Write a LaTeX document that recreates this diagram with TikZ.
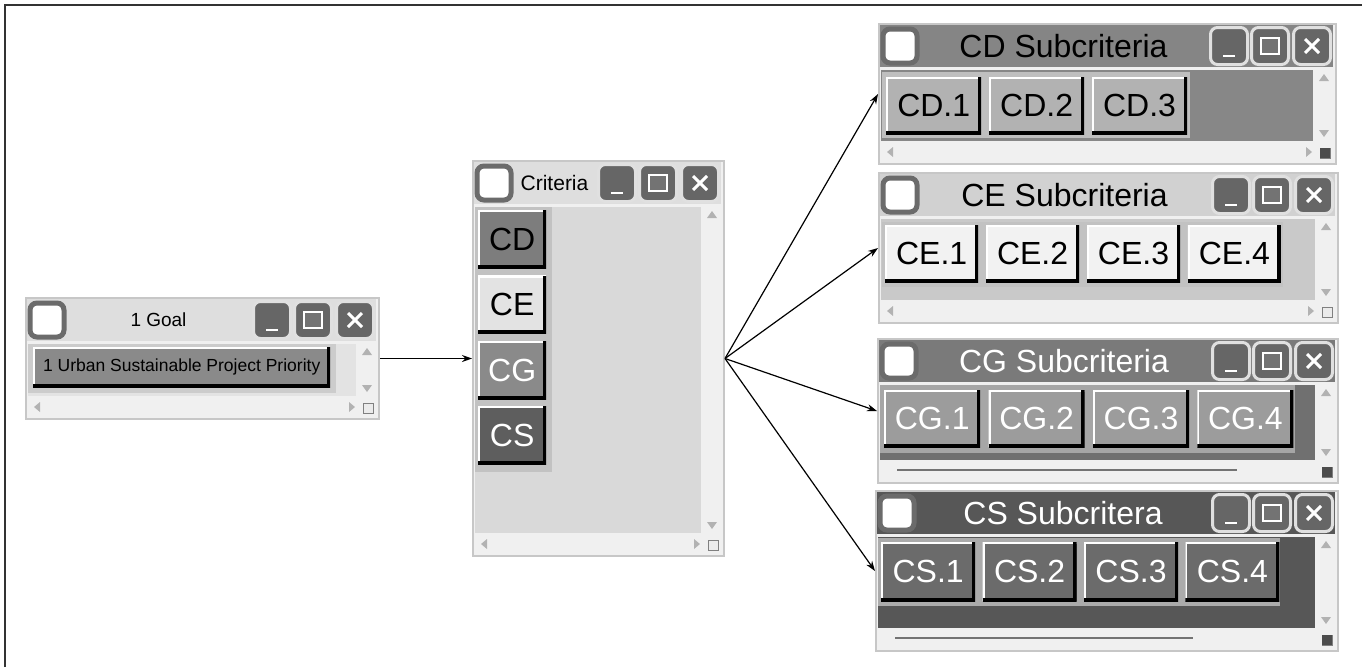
\documentclass[tikz,border=0pt]{standalone}
\usepackage{fontspec}
\setmainfont{Liberation Sans}
\usetikzlibrary{arrows.meta, positioning}

\newcommand{\titlefont}{\fontsize{32}{38}\selectfont}
\newcommand{\btnfont}{\fontsize{32}{38}\selectfont}

\tikzstyle{window} = [rectangle, anchor=north west, inner sep=0pt, draw=black!22, line width=2pt, fill=black!6]
\tikzstyle{chkbox} = [rectangle, rounded corners=7pt, minimum size=34pt, inner sep=0pt, fill=white, draw=black!58, line width=5pt]
\tikzstyle{ctrlbtn} = [rectangle, rounded corners=7pt, minimum size=37pt, inner sep=0pt, fill=black!60, draw=black!12, line width=3pt]
\tikzstyle{scrolltri} = [black!30]
\tikzstyle{rawbtn} = [rectangle, inner sep=0pt, path picture={
    \draw[white, line width=4pt] (path picture bounding box.south west) -- (path picture bounding box.north west) -- (path picture bounding box.north east);
    \draw[black, line width=7pt] (path picture bounding box.south west) -- (path picture bounding box.south east) -- (path picture bounding box.north east);}]
\tikzstyle{goalbtn} = [rawbtn, minimum width=297pt, minimum height=40pt, fill=black!46, font=\fontsize{17.5}{20}\selectfont]
\tikzstyle{critbtn} = [rawbtn, minimum width=68pt, minimum height=58pt, font=\btnfont]
\tikzstyle{subbtn} = [rawbtn, minimum width=94pt, minimum height=57pt, font=\btnfont]
\tikzstyle{arrow} = [line width=1.2pt, -{Stealth[length=10pt, width=7pt]}]

% finestra: nome, x, y, larghezza, altezza, barra, titolo, corpo, barra orizzontale
\newcommand{\guiwin}[9]{%
  \node (#1) [window, minimum width=#4pt, minimum height=#5pt] at (#2,#3) {};
  \fill[#6] (#2+2,#3+2) rectangle (#2+#4-2,#3+44);
  \fill[#8] (#2+3,#3+47) rectangle (#2+#4-22,#3+#5-22);
  \node (#1-chk) [chkbox] at (#2+22,#3+23) {};
  \node (#1-min) [ctrlbtn] at (#2+#4-106,#3+23) {};
  \node (#1-max) [ctrlbtn] at (#2+#4-65,#3+23) {};
  \node (#1-cls) [ctrlbtn] at (#2+#4-23,#3+23) {};
  \draw[white, line width=2.5pt] ([shift={(-6pt,-10pt)}]#1-min.center) -- ++(12,0);
  \draw[white, line width=2pt, fill=black!55] ([shift={(-9pt,-8pt)}]#1-max.center) rectangle ([shift={(9pt,8pt)}]#1-max.center);
  \draw[white, line width=3pt] ([shift={(-7pt,-7pt)}]#1-cls.center) -- ([shift={(7pt,7pt)}]#1-cls.center)
    ([shift={(-7pt,7pt)}]#1-cls.center) -- ([shift={(7pt,-7pt)}]#1-cls.center);
  \node (#1-title) at (#2+#4/2-43,#3+23) {#7};
  \fill[scrolltri] (#2+#4-16,#3+58) -- (#2+#4-6,#3+58) -- (#2+#4-11,#3+51) -- cycle;
  \fill[scrolltri] (#2+#4-16,#3+#5-33) -- (#2+#4-6,#3+#5-33) -- (#2+#4-11,#3+#5-26) -- cycle;
  \draw[black!50, fill=black!8] (#2+#4-15,#3+#5-15) rectangle (#2+#4-5,#3+#5-5);
  \ifnum#9>0
    \draw[black!55, line width=1.5pt] (#2+20,#3+#5-12) -- ++(#9,0);
  \else
    \fill[scrolltri] (#2+9,#3+#5-11) -- (#2+15,#3+#5-16) -- (#2+15,#3+#5-6) -- cycle;
    \fill[scrolltri] (#2+#4-23,#3+#5-11) -- (#2+#4-29,#3+#5-16) -- (#2+#4-29,#3+#5-6) -- cycle;
  \fi
}

\begin{document}
\begin{tikzpicture}[x=1pt, y=-1pt]
\useasboundingbox (0,0) rectangle (1362,667);
\draw[line width=2pt, black!80] (5,667) -- (5,5) -- (1362,5);

% Finestre
\guiwin{goal}{25}{297}{353}{121}{black!13}{\fontsize{19}{22}\selectfont 1 Goal}{black!11}{0}
\guiwin{crit}{472}{160}{251}{395}{black!13}{\fontsize{21}{24}\selectfont Criteria}{black!15}{0}
\guiwin{cdwin}{878}{23}{457}{140}{black!48}{\titlefont CD Subcriteria}{black!47}{0}
\guiwin{cewin}{878}{172}{459}{150}{black!18}{\titlefont CE Subcriteria}{black!21}{0}
\guiwin{cgwin}{877}{338}{460}{144}{black!52}{\titlefont\color{white}CG Subcriteria}{black!56}{340}
\guiwin{cswin}{875}{490}{462}{160}{black!66}{\titlefont\color{white}CS Subcritera}{black!66}{298}
\fill[black!70] (1320,148) rectangle (1330,158);
\fill[black!70] (1322,467) rectangle (1332,477);
\fill[black!70] (1322,635) rectangle (1332,645);

% Goal
\fill[black!20] (28,344) rectangle (336,393);
\node (urban) [goalbtn, anchor=north west] at (33,347) {1 Urban Sustainable Project Priority};

% Criteria
\fill[black!24] (475,207) rectangle (552,472);
\node (cd) [critbtn, fill=black!51, anchor=north west] at (478,210) {CD};
\node (ce) [critbtn, fill=black!11, below=7pt of cd] {CE};
\node (cg) [critbtn, fill=black!46, text=white, below=7pt of ce] {CG};
\node (cs) [critbtn, fill=black!63, text=white, below=7pt of cg] {CS};

% Subcriteria
\fill[black!25] (882,72) rectangle (1190,138);
\node (cd1) [subbtn, minimum width=95pt, fill=black!30, anchor=north west] at (886,77) {CD.1};
\node (cd2) [subbtn, minimum width=95pt, fill=black!30, right=7.5pt of cd1] {CD.2};
\node (cd3) [subbtn, minimum width=95pt, fill=black!30, right=7.5pt of cd2] {CD.3};

\fill[black!24] (882,222) rectangle (1283,287);
\node (ce1) [subbtn, minimum width=93pt, fill=black!5, anchor=north west] at (885,225) {CE.1};
\node (ce2) [subbtn, minimum width=93pt, fill=black!5, right=7.5pt of ce1] {CE.2};
\node (ce3) [subbtn, minimum width=93pt, fill=black!5, right=7.5pt of ce2] {CE.3};
\node (ce4) [subbtn, minimum width=93pt, fill=black!5, right=7.5pt of ce3] {CE.4};

\fill[black!35] (880,385) rectangle (1295,453);
\node (cg1) [subbtn, minimum width=96pt, fill=black!39, text=white, anchor=north west] at (884,390) {CG.1};
\node (cg2) [subbtn, minimum width=96pt, fill=black!39, text=white, right=8pt of cg1] {CG.2};
\node (cg3) [subbtn, minimum width=96pt, fill=black!39, text=white, right=8pt of cg2] {CG.3};
\node (cg4) [subbtn, minimum width=96pt, fill=black!39, text=white, right=8pt of cg3] {CG.4};

\fill[black!33] (878,538) rectangle (1280,606);
\node (cs1) [subbtn, minimum height=59pt, fill=black!58, text=white, anchor=north west] at (881,542) {CS.1};
\node (cs2) [subbtn, minimum height=59pt, fill=black!58, text=white, right=7pt of cs1] {CS.2};
\node (cs3) [subbtn, minimum height=59pt, fill=black!58, text=white, right=7pt of cs2] {CS.3};
\node (cs4) [subbtn, minimum height=59pt, fill=black!58, text=white, right=7pt of cs3] {CS.4};

% Collegamenti
\draw [arrow] (goal) -- (crit);
\draw [arrow] (crit.east) -- (cdwin.west);
\draw [arrow] (crit.east) -- (cewin.west);
\draw [arrow] (crit.east) -- (cgwin.west);
\draw [arrow] (crit.east) -- (cswin.west);

\end{tikzpicture}
\end{document}
